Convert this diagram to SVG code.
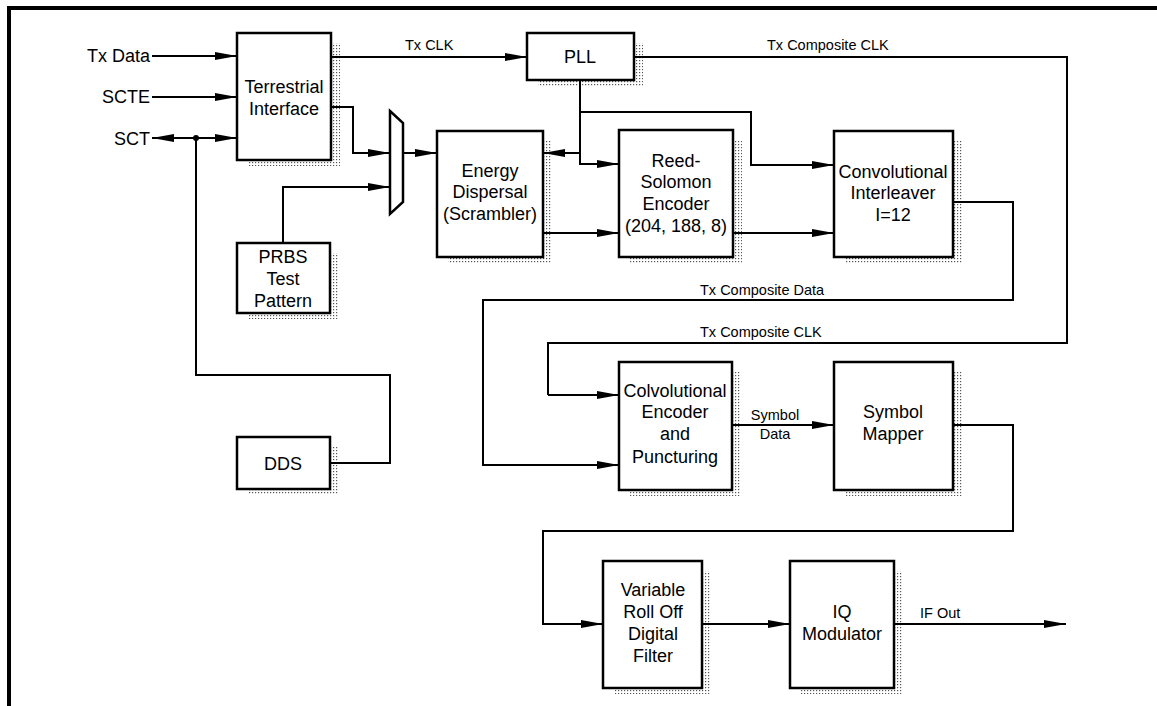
<svg xmlns="http://www.w3.org/2000/svg" width="1157" height="706" viewBox="0 0 1157 706">
<style>
text{font-family:"Liberation Sans",Arial,sans-serif;fill:#000}
.b{font-size:18px;text-anchor:middle}
.l{font-size:18px;text-anchor:end}
.s{font-size:14.5px}
.box{fill:#fff;stroke:#000;stroke-width:2.5}
.sh{fill:url(#dots)}
.c{fill:none;stroke:#000;stroke-width:2}
.a{marker-end:url(#ah)}
</style>
<defs>
<pattern id="dots" width="3" height="3" patternUnits="userSpaceOnUse">
<rect x="0" y="0" width="1.2" height="1.2" fill="#555"/>
</pattern>
<marker id="ah" markerUnits="userSpaceOnUse" markerWidth="22" markerHeight="8" refX="22" refY="4" orient="auto">
<path d="M0,0 L22,4 L0,8 z" fill="#000"/>
</marker>
</defs>
<rect width="1157" height="706" fill="#fff"/>
<g id="frame">
<rect x="7" y="6" width="1150" height="4" fill="#000"/>
<rect x="7" y="6" width="4" height="700" fill="#000"/>
</g>

<g id="terrestrial">
<rect class="sh" x="248" y="43" width="92" height="123"/>
<rect class="box" x="237" y="33" width="94" height="127"/>
<text class="b" x="284" y="93">Terrestrial</text>
<text class="b" x="284" y="115">Interface</text>
</g>
<g id="pll">
<rect class="sh" x="538" y="43" width="105" height="43"/>
<rect class="box" x="527" y="33" width="107" height="47"/>
<text class="b" x="580" y="63">PLL</text>
</g>
<g id="mux">
<polygon points="390,111 403,123 403,202 390,214" fill="#fff" stroke="#000" stroke-width="2.5"/>
</g>
<g id="energy">
<rect class="sh" x="448" y="141" width="104" height="122"/>
<rect class="box" x="437" y="131" width="106" height="126"/>
<text class="b" x="490" y="177">Energy</text>
<text class="b" x="490" y="198">Dispersal</text>
<text class="b" x="490" y="220">(Scrambler)</text>
</g>
<g id="rs">
<rect class="sh" x="630" y="140" width="112" height="123"/>
<rect class="box" x="619" y="130" width="114" height="127"/>
<text class="b" x="676" y="167">Reed-</text>
<text class="b" x="676" y="188">Solomon</text>
<text class="b" x="676" y="210">Encoder</text>
<text class="b" x="676" y="232">(204, 188, 8)</text>
</g>
<g id="interleaver">
<rect class="sh" x="845" y="141" width="117" height="122"/>
<rect class="box" x="834" y="131" width="119" height="126"/>
<text class="b" x="893" y="178">Convolutional</text>
<text class="b" x="893" y="199">Interleaver</text>
<text class="b" x="893" y="221">I=12</text>
</g>
<g id="prbs">
<rect class="sh" x="248" y="253" width="91" height="66"/>
<rect class="box" x="237" y="243" width="93" height="70"/>
<text class="b" x="283" y="263">PRBS</text>
<text class="b" x="283" y="285">Test</text>
<text class="b" x="283" y="307">Pattern</text>
</g>
<g id="dds">
<rect class="sh" x="248" y="447" width="91" height="48"/>
<rect class="box" x="237" y="437" width="93" height="52"/>
<text class="b" x="283" y="470">DDS</text>
</g>
<g id="convenc">
<rect class="sh" x="630" y="372" width="111" height="124"/>
<rect class="box" x="619" y="362" width="113" height="128"/>
<text class="b" x="675" y="397">Colvolutional</text>
<text class="b" x="675" y="418">Encoder</text>
<text class="b" x="675" y="440">and</text>
<text class="b" x="675" y="463">Puncturing</text>
</g>
<g id="mapper">
<rect class="sh" x="845" y="372" width="117" height="124"/>
<rect class="box" x="834" y="362" width="119" height="128"/>
<text class="b" x="893" y="418">Symbol</text>
<text class="b" x="893" y="440">Mapper</text>
</g>
<g id="filter">
<rect class="sh" x="614" y="571" width="97" height="123"/>
<rect class="box" x="603" y="561" width="99" height="127"/>
<text class="b" x="653" y="596">Variable</text>
<text class="b" x="653" y="618">Roll Off</text>
<text class="b" x="653" y="640">Digital</text>
<text class="b" x="653" y="662">Filter</text>
</g>
<g id="iq">
<rect class="sh" x="801" y="571" width="102" height="123"/>
<rect class="box" x="790" y="561" width="104" height="127"/>
<text class="b" x="842" y="618">IQ</text>
<text class="b" x="842" y="640">Modulator</text>
</g>

<g id="connectors">
<line class="c a" x1="152" y1="56" x2="237" y2="56"/>
<line class="c a" x1="152" y1="97" x2="237" y2="97"/>
<line class="c a" x1="196" y1="138" x2="152" y2="138"/>
<line class="c a" x1="196" y1="138" x2="237" y2="138"/>
<circle cx="196" cy="138" r="3" fill="#000"/>
<polyline class="c" points="196,138 196,375 390,375 390,463 330,463"/>
<polyline class="c a" points="331,107 353,107 353,153 390,153"/>
<polyline class="c a" points="283,243 283,187 390,187"/>
<line class="c a" x1="403" y1="153" x2="437" y2="153"/>
<line class="c a" x1="331" y1="57" x2="527" y2="57"/>
<polyline class="c" points="634,57 1067,57 1067,343 548,343 548,395"/>
<line class="c a" x1="548" y1="395" x2="619" y2="395"/>
<polyline class="c a" points="580,80 580,164 619,164"/>
<line class="c a" x1="580" y1="153" x2="543" y2="153"/>
<polyline class="c a" points="580,112 751,112 751,165 834,165"/>
<line class="c a" x1="543" y1="233" x2="619" y2="233"/>
<line class="c a" x1="733" y1="233" x2="834" y2="233"/>
<polyline class="c a" points="953,202 1013,202 1013,300 483,300 483,465 619,465"/>
<line class="c a" x1="732" y1="425" x2="834" y2="425"/>
<polyline class="c a" points="953,425 1013,425 1013,531 543,531 543,624 603,624"/>
<line class="c a" x1="702" y1="624" x2="790" y2="624"/>
<line class="c a" x1="894" y1="624" x2="1066" y2="624"/>
</g>

<g id="labels">
<text class="l" x="150" y="62">Tx Data</text>
<text class="l" x="150" y="103">SCTE</text>
<text class="l" x="150" y="145">SCT</text>
<text class="s" x="405" y="50">Tx CLK</text>
<text class="s" x="767" y="50">Tx Composite CLK</text>
<text class="s" x="700" y="295">Tx Composite Data</text>
<text class="s" x="700" y="337">Tx Composite CLK</text>
<text class="s" x="775" y="420" text-anchor="middle">Symbol</text>
<text class="s" x="775" y="439" text-anchor="middle">Data</text>
<text class="s" x="920" y="618" font-size="14">IF Out</text>
</g>
</svg>
